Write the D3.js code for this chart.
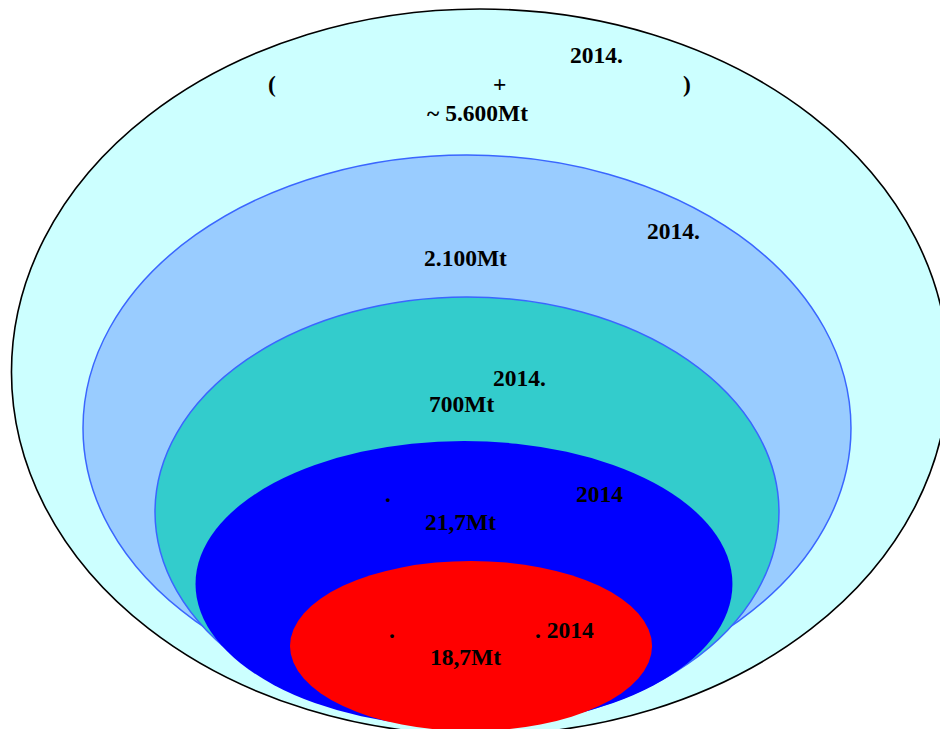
<!DOCTYPE html>
<html>
<head>
<meta charset="utf-8">
<script src="https://cdn.jsdelivr.net/npm/d3@7"></script>
<style>
  html, body { margin: 0; padding: 0; background: #ffffff; }
  svg { display: block; }
  text { font-family: "Liberation Serif", "Times New Roman", serif; font-weight: bold; fill: #000; }
</style>
</head>
<body>
<svg id="chart" width="940" height="729"></svg>
<script>
// Emission levels, from the widest scope down to a single source (Mt CO2, 2014)
const levels = ["total", "level2", "level3", "level4", "level5"];
const values = [5600, 2100, 700, 21.7, 18.7];
const valueLabels = ["~ 5.600Mt", "2.100Mt", "700Mt", "21,7Mt", "18,7Mt"];
const yearLabels = ["2014.", "2014.", "2014.", "2014", ". 2014"];
const fills = ["#ccffff", "#99ccff", "#33cccc", "#0000ff", "#ff0000"];
const strokes = ["#000000", "#3a66ff", "#3a66ff", "none", "none"];

// Extra punctuation drawn inside some levels
const extraText = ["(", "+", ")", ".", "."];
const extraLevel = [0, 0, 0, 3, 4];

// Ellipse layout in a 0..100 unit frame (centre x/y, radius x/y)
const layout = [
  { cx: 51.06, cy: 51.03, rx: 49.84, ry: 49.79 },
  { cx: 49.68, cy: 58.71, rx: 40.85, ry: 37.45 },
  { cx: 49.68, cy: 70.23, rx: 33.19, ry: 29.49 },
  { cx: 49.36, cy: 80.11, rx: 28.56, ry: 19.62 },
  { cx: 50.11, cy: 88.61, rx: 19.26, ry: 11.66 }
];
// Label anchor points (left x, baseline y) in the same unit frame
const valuePos = [[45.43, 16.60], [45.11, 36.49], [45.64, 56.52], [45.21, 72.70], [45.74, 91.22]];
const yearPos  = [[60.64, 8.64], [68.83, 32.78], [52.45, 52.95], [61.28, 68.93], [56.91, 87.52]];
const extraPos = [[28.51, 12.62], [52.45, 12.62], [72.66, 12.62], [40.96, 68.93], [41.38, 87.52]];

const W = 940, H = 729;
const x = d3.scaleLinear().domain([0, 100]).range([0, W]);
const y = d3.scaleLinear().domain([0, 100]).range([0, H]);

const svg = d3.select("#chart");

svg.append("g")
  .selectAll("ellipse")
  .data(levels.map((k, i) => ({ key: k, value: values[i], i })))
  .join("ellipse")
  .attr("cx", d => x(layout[d.i].cx))
  .attr("cy", d => y(layout[d.i].cy))
  .attr("rx", d => x(layout[d.i].rx))
  .attr("ry", d => y(layout[d.i].ry))
  .attr("fill", d => fills[d.i])
  .attr("stroke", d => strokes[d.i])
  .attr("stroke-width", d => d.i === 0 ? 1.6 : 1.5);

const fontSize = 23.5;
const labels = svg.append("g").attr("font-size", fontSize);

labels.selectAll("text.val")
  .data(valueLabels)
  .join("text")
  .attr("class", "val")
  .attr("x", (d, i) => x(valuePos[i][0]))
  .attr("y", (d, i) => y(valuePos[i][1]))
  .text(d => d);

labels.selectAll("text.year")
  .data(yearLabels)
  .join("text")
  .attr("class", "year")
  .attr("x", (d, i) => x(yearPos[i][0]))
  .attr("y", (d, i) => y(yearPos[i][1]))
  .text(d => d);

labels.selectAll("text.extra")
  .data(extraText)
  .join("text")
  .attr("class", "extra")
  .attr("data-level", (d, i) => levels[extraLevel[i]])
  .attr("x", (d, i) => x(extraPos[i][0]))
  .attr("y", (d, i) => y(extraPos[i][1]))
  .text(d => d);
</script>
</body>
</html>
